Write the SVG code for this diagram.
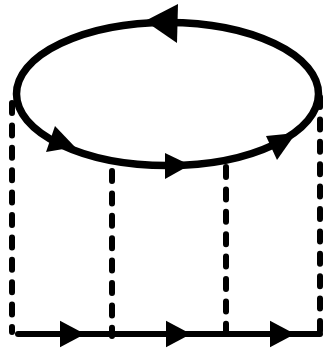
<svg xmlns="http://www.w3.org/2000/svg" width="323" height="351" viewBox="0 0 323 351">
<style>
.solid{fill:none;stroke:#000;stroke-linecap:round}
.loop{stroke-width:7.5}
.base{stroke-width:6}
.dash{fill:none;stroke:#000;stroke-width:6;stroke-linecap:round;stroke-dasharray:10 12.4}
.head{fill:#000;stroke:none}
</style>
<rect width="323" height="351" fill="#fff"/>
<g id="connectors">
<line class="dash" x1="12" y1="103" x2="12" y2="332"/>
<line class="dash" x1="112" y1="171" x2="112" y2="336"/>
<line class="dash" x1="226" y1="167" x2="226" y2="332"/>
<line class="dash" x1="320" y1="97" x2="320" y2="332"/>
</g>
<g id="loop">
<ellipse class="solid loop" cx="167.5" cy="94" rx="151" ry="71.5"/>
<polygon class="head" points="145,21 178,4 177,43"/>
<polygon class="head" points="75,147 55,126 46,152"/>
<polygon class="head" points="190,165 165,153 165,179"/>
<polygon class="head" points="296,133 266,136 277,160"/>
</g>
<g id="baseline">
<line class="solid base" x1="18" y1="334" x2="320" y2="334"/>
<polygon class="head" points="85,334 60,320.7 60,347.3"/>
<polygon class="head" points="191,334 166,320.7 166,347.3"/>
<polygon class="head" points="295,334 270,320.7 270,347.3"/>
</g>
</svg>
